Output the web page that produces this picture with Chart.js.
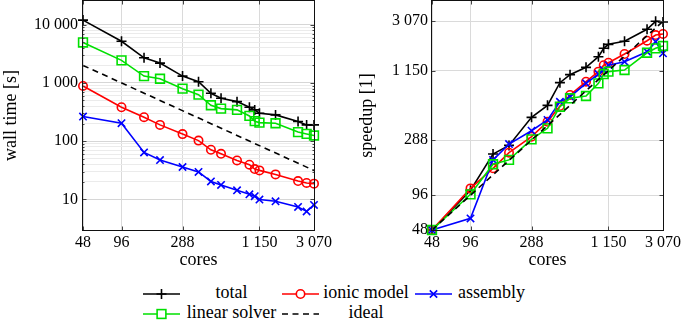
<!DOCTYPE html>
<html><head><meta charset="utf-8">
<script src="https://cdn.jsdelivr.net/npm/chart.js@4/dist/chart.umd.min.js"></script>
<style>
html,body{margin:0;padding:0;background:#fff;}
body{width:685px;height:324px;position:relative;overflow:hidden;font-family:"Liberation Serif","Times New Roman",serif;}
#c1{position:absolute;left:0;top:0;}
#c2{position:absolute;left:355px;top:0;}
.lgt{position:absolute;font-family:"Liberation Serif","Times New Roman",serif;font-size:18px;line-height:20px;color:#000;white-space:nowrap;}
.lgs{position:absolute;}
</style></head><body>
<canvas id="c1" width="345" height="275"></canvas>
<canvas id="c2" width="330" height="275"></canvas>
<div id="legend"></div>
<script>
// ---------------- data ----------------
const cores = [48, 96, 144, 192, 288, 384, 480, 576, 768, 960, 1056, 1150, 1536, 2304, 2688, 3070];

// wall time [s] (left panel)
const wallTotal    = [12000, 5200, 2700, 2190, 1310, 1050, 664, 545, 477, 382, 344, 301, 282, 217, 190, 190];
const wallIonic    = [885, 382, 258, 190, 132, 102, 71, 60.6, 46.6, 39.3, 33.1, 31.4, 26.8, 20.6, 19.1, 18.6];
const wallAssembly = [264, 203, 63.8, 47.2, 35.9, 29.5, 20.3, 17.7, 14.3, 12.2, 11.3, 9.9, 9.25, 7.4, 6.2, 8.0];
const wallLinear   = [4960, 2440, 1310, 1180, 796, 629, 413, 362, 344, 271, 220, 208, 203, 143, 133, 125];
const idealCores   = [48, 3070];
const wallIdeal    = [2000, 31.3];

// speedup [1] (right panel)
const speedTotal    = [48, 106, 218, 259, 453, 575, 904, 1060, 1227, 1517, 1792, 1940, 2060, 2620, 3070, 3030];
const speedIonic    = [48, 110, 164, 224, 308, 415, 568, 707, 922, 1126, 1281, 1345, 1600, 2085, 2333, 2385];
const speedAssembly = [48, 60.5, 194, 266, 347, 430, 618, 683, 892, 1073, 1163, 1282, 1372, 1674, 2045, 1622];
const speedLinear   = [48, 97.7, 178, 194, 292, 364, 560, 662, 693, 892, 1073, 1126, 1163, 1640, 1792, 1876];
const speedIdeal    = [48, 3070];

// ticks
const coreTicks       = [48, 96, 288, 1150, 3070];
const coreTickLabels  = ['48', '96', '288', '1 150', '3 070'];
const speedTicks      = [48, 96, 288, 1150, 3070];
const speedTickLabels = ['48', '96', '288', '1 150', '3 070'];
const wallMajorTicks  = [10, 100, 1000, 10000];
const wallMajorLabels = ['10', '100', '1 000', '10 000'];
const wallMinorTicks  = [];
[10, 100, 1000].forEach(d => { for (let k = 2; k <= 9; k++) wallMinorTicks.push(d * k); });

const seriesNames = ['total', 'ionic model', 'assembly', 'linear solver', 'ideal'];

// ---------------- styling ----------------
const FONT = '"Liberation Serif", "Times New Roman", serif';
const styles = {
  'total':         {color: '#000000', ps: 'cross',    r: 5},
  'ionic model':   {color: '#ff0000', ps: 'circle',   r: 4.2},
  'assembly':      {color: '#0000ff', ps: 'crossRot', r: 5.2},
  'linear solver': {color: '#00e000', ps: 'rect',     r: 6.2},
  'ideal':         {color: '#000000', ps: false,      r: 0, dash: [6, 4.5]}
};

function pts(xs, ys) { return xs.map((x, i) => ({x: x, y: ys[i]})); }
function ds(name, xs, ys, order) {
  const st = styles[name];
  return {
    label: name, data: pts(xs, ys), order: order,
    borderColor: st.color, backgroundColor: 'rgba(0,0,0,0)',
    pointBorderColor: st.color, pointBackgroundColor: 'rgba(0,0,0,0)',
    pointStyle: st.ps, pointRadius: st.r, pointHoverRadius: st.r,
    borderWidth: 1.6, pointBorderWidth: 1.6,
    borderDash: st.dash || [], tension: 0, fill: false, clip: false
  };
}

const framePlugin = {
  id: 'frame',
  afterDraw(chart, args, opts) {
    const {ctx, chartArea: a} = chart;
    const xs = chart.scales.x, ys = chart.scales.y;
    const L = Math.round(a.left) - 0.5, R = Math.round(a.right) + 0.5;
    const T = Math.round(a.top) - 0.5, B = Math.round(a.bottom) + 0.5;
    ctx.save();
    ctx.lineWidth = 1;
    ctx.strokeStyle = '#444';
    ctx.beginPath();
    opts.xMajor.forEach(v => {
      const p = Math.round(xs.getPixelForValue(v)) + 0.5;
      ctx.moveTo(p, B); ctx.lineTo(p, B - 4);
      ctx.moveTo(p, T); ctx.lineTo(p, T + 4);
    });
    opts.yMajor.forEach(v => {
      const p = Math.round(ys.getPixelForValue(v)) + 0.5;
      ctx.moveTo(L, p); ctx.lineTo(L + 4, p);
      ctx.moveTo(R, p); ctx.lineTo(R - 4, p);
    });
    opts.yMinor.forEach(v => {
      const p = Math.round(ys.getPixelForValue(v)) + 0.5;
      ctx.moveTo(L, p); ctx.lineTo(L + 2, p);
      ctx.moveTo(R, p); ctx.lineTo(R - 2, p);
    });
    ctx.stroke();
    ctx.strokeStyle = '#111';
    ctx.strokeRect(L, T, R - L, B - T);
    ctx.restore();
  }
};

function xScale() {
  return {
    type: 'logarithmic', position: 'bottom', min: 48, max: 3070, bounds: 'data',
    afterBuildTicks: s => { s.ticks = coreTicks.map(v => ({value: v})); },
    afterFit: s => { s.height = 45; s.paddingLeft = 0; s.paddingRight = 0; },
    ticks: {
      autoSkip: false, maxRotation: 0, minRotation: 0, padding: 3, color: '#000',
      font: {family: FONT, size: 16},
      callback: v => { const i = coreTicks.indexOf(v); return i >= 0 ? coreTickLabels[i] : ''; }
    },
    grid: {color: '#dadada', lineWidth: 1, drawTicks: false},
    border: {display: false},
    title: {display: true, text: 'cores', color: '#000', font: {family: FONT, size: 18}, padding: {top: 0, bottom: 4}}
  };
}

function baseOptions(yScale, frameOpts) {
  return {
    responsive: false, animation: false, devicePixelRatio: 1,
    layout: {autoPadding: false},
    plugins: {legend: {display: false}, tooltip: {enabled: false}, frame: frameOpts},
    events: [],
    scales: {x: xScale(), y: yScale}
  };
}

// ---------------- left chart ----------------
const wallGrid = wallMajorTicks.concat(wallMinorTicks).sort((a, b) => a - b);
const opt1 = baseOptions({
  type: 'logarithmic', position: 'left', min: 2.97, max: 25560, bounds: 'data',
  afterBuildTicks: s => { s.ticks = wallGrid.map(v => ({value: v})); },
  afterFit: s => { s.width = 83; s.paddingTop = 0; s.paddingBottom = 0; },
  ticks: {
    autoSkip: false, padding: 5, color: '#000', font: {family: FONT, size: 16},
    callback: v => { const i = wallMajorTicks.indexOf(v); return i >= 0 ? wallMajorLabels[i] : ''; }
  },
  grid: {
    drawTicks: false, lineWidth: 1,
    color: c => (c.tick && wallMajorTicks.indexOf(c.tick.value) >= 0) ? '#d6d6d6' : '#ebebeb'
  },
  border: {display: false},
  title: {display: true, text: 'wall time [s]', color: '#000', font: {family: FONT, size: 18}, padding: {top: 0, bottom: 0}}
}, {xMajor: coreTicks, yMajor: wallMajorTicks, yMinor: wallMinorTicks});
opt1.layout.padding = {left: 0, top: 1, right: 31, bottom: 0};

new Chart(document.getElementById('c1'), {
  type: 'line',
  data: {datasets: [
    ds('total', cores, wallTotal, 5),
    ds('ionic model', cores, wallIonic, 4),
    ds('assembly', cores, wallAssembly, 3),
    ds('linear solver', cores, wallLinear, 2),
    ds('ideal', idealCores, wallIdeal, 1)
  ]},
  options: opt1,
  plugins: [framePlugin]
});

// ---------------- right chart ----------------
const opt2 = baseOptions({
  type: 'logarithmic', position: 'left', min: 48, max: 4600, bounds: 'data',
  afterBuildTicks: s => { s.ticks = speedTicks.map(v => ({value: v})); },
  afterFit: s => { s.width = 77; s.paddingTop = 0; s.paddingBottom = 0; },
  ticks: {
    autoSkip: false, padding: 4, color: '#000', font: {family: FONT, size: 16},
    callback: v => { const i = speedTicks.indexOf(v); return i >= 0 ? speedTickLabels[i] : ''; }
  },
  grid: {drawTicks: false, lineWidth: 1, color: '#dadada'},
  border: {display: false},
  title: {display: true, text: 'speedup [1]', color: '#000', font: {family: FONT, size: 18}, padding: {top: 1, bottom: 0}}
}, {xMajor: coreTicks, yMajor: speedTicks, yMinor: []});
opt2.layout.padding = {left: 0, top: 1, right: 22, bottom: 0};

new Chart(document.getElementById('c2'), {
  type: 'line',
  data: {datasets: [
    ds('total', cores, speedTotal, 5),
    ds('ionic model', cores, speedIonic, 4),
    ds('assembly', cores, speedAssembly, 3),
    ds('linear solver', cores, speedLinear, 2),
    ds('ideal', idealCores, speedIdeal, 1)
  ]},
  options: opt2,
  plugins: [framePlugin]
});

// ---------------- legend (HTML) ----------------
(function () {
  const host = document.getElementById('legend');
  const rowY = [294, 314];
  const sampleX = [143, 282, 415];
  const textBox = [{l: 186, w: 91, align: 'center'}, {l: 322, w: 88, align: 'center'}, {l: 458, w: 100, align: 'left'}];
  const NS = 'http://www.w3.org/2000/svg';
  seriesNames.forEach((name, i) => {
    const row = Math.floor(i / 3), col = i % 3;
    const st = styles[name];
    const yc = rowY[row];
    const svg = document.createElementNS(NS, 'svg');
    svg.setAttribute('width', 38); svg.setAttribute('height', 14);
    svg.setAttribute('class', 'lgs');
    svg.style.left = sampleX[col] + 'px'; svg.style.top = (yc - 7) + 'px';
    const ln = document.createElementNS(NS, 'line');
    ln.setAttribute('x1', 0); ln.setAttribute('x2', 37); ln.setAttribute('y1', 7); ln.setAttribute('y2', 7);
    ln.setAttribute('stroke', st.color); ln.setAttribute('stroke-width', 1.6);
    if (st.dash) ln.setAttribute('stroke-dasharray', st.dash.join(' '));
    svg.appendChild(ln);
    const cx = 18.5, cy = 7;
    let m = null;
    if (st.ps === 'cross') {
      m = document.createElementNS(NS, 'path');
      m.setAttribute('d', `M${cx - st.r} ${cy} H${cx + st.r} M${cx} ${cy - st.r} V${cy + st.r}`);
    } else if (st.ps === 'crossRot') {
      const o = st.r * Math.SQRT1_2;
      m = document.createElementNS(NS, 'path');
      m.setAttribute('d', `M${cx - o} ${cy - o} L${cx + o} ${cy + o} M${cx - o} ${cy + o} L${cx + o} ${cy - o}`);
    } else if (st.ps === 'circle') {
      m = document.createElementNS(NS, 'circle');
      m.setAttribute('cx', cx); m.setAttribute('cy', cy); m.setAttribute('r', st.r);
    } else if (st.ps === 'rect') {
      const h = st.r * Math.SQRT1_2;
      m = document.createElementNS(NS, 'rect');
      m.setAttribute('x', cx - h); m.setAttribute('y', cy - h);
      m.setAttribute('width', 2 * h); m.setAttribute('height', 2 * h);
    }
    if (m) {
      m.setAttribute('fill', '#fff'); m.setAttribute('stroke', st.color); m.setAttribute('stroke-width', 1.6);
      svg.appendChild(m);
    }
    host.appendChild(svg);
    const t = document.createElement('div');
    t.className = 'lgt';
    t.textContent = name;
    const tb = textBox[col];
    t.style.left = tb.l + 'px'; t.style.width = tb.w + 'px'; t.style.textAlign = tb.align;
    t.style.top = (yc - 12) + 'px';
    host.appendChild(t);
  });
})();
</script>
</body></html>
